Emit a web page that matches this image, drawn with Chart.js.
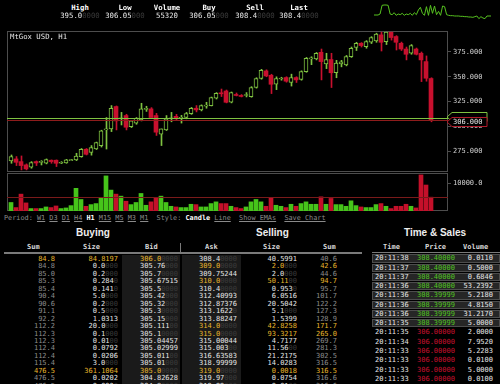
<!DOCTYPE html>
<html>
<head>
<meta charset="utf-8">
<script src="https://cdn.jsdelivr.net/npm/chart.js@4.4.1/dist/chart.umd.min.js"></script>
<style>
body { margin: 0; background: #000; width: 500px; height: 384px; overflow: hidden; position: relative; font-family: "DejaVu Sans Mono", monospace; color: #ddd; }
canvas { position: absolute; }
.t { position: absolute; white-space: pre; font-size: 7px; line-height: 8px; }
.b { font-weight: bold; }
.dim { color: #3a3a3a; }
.hd { font-family: "Liberation Sans", Arial, sans-serif; font-weight: bold; font-size: 10px; line-height: 12px; color: #eee; }
.lnk { color: #8a8a8a; text-decoration: underline; }
.on { color: #fff; font-weight: bold; }
</style>
</head>
<body>
<canvas id="spark" width="117" height="18" style="left:374px;top:2px;width:117px;height:18px"></canvas>
<canvas id="price" width="493" height="141" style="left:7px;top:31px;width:493px;height:141px"></canvas>
<canvas id="volume" width="493" height="38" style="left:7px;top:173px;width:493px;height:38px"></canvas>
<script>
// hourly candles, MtGox USD
const opens = [265.0, 267.0, 264.3, 261.0, 258.6, 264.3, 263.9, 262.6, 265.7, 265.7, 263.0, 263.0, 265.7, 266.0, 269.4, 276.8, 273.7, 277.1, 280.5, 296.5,
  297.3, 319.9, 307.8, 310.8, 299.7, 303.0, 306.4, 317.3, 317.5, 310.8, 292.0, 296.3, 307.8, 310.0, 308.4, 308.8, 312.8, 318.2, 316.5, 320.6,
  320.9, 328.3, 333.6, 335.6, 324.2, 331.9, 330.9, 331.3, 330.0, 339.1, 348.2, 355.9, 351.5, 342.4, 347.9, 349.2, 344.2, 349.2, 347.4, 355.2,
  368.3, 368.0, 374.7, 363.0, 367.4, 354.0, 363.0, 362.0, 370.4, 379.5, 383.8, 380.5, 384.8, 386.2, 392.3, 385.5, 395.0, 390.6, 383.8, 378.0,
  373.7, 378.0, 373.7, 365.3, 348.2]
const highs = [271.0, 269.4, 270.0, 262.0, 264.3, 265.0, 265.3, 267.0, 266.0, 266.0, 264.3, 266.6, 266.6, 272.7, 277.5, 277.5, 280.5, 284.0, 296.0, 308.8,
  320.9, 320.5, 314.0, 312.1, 306.0, 308.8, 323.2, 320.2, 318.8, 313.0, 297.3, 310.8, 314.0, 312.0, 311.0, 314.0, 319.0, 320.9, 321.6, 324.2,
  329.5, 334.0, 337.6, 336.6, 334.6, 333.6, 332.0, 334.0, 340.0, 349.0, 357.5, 357.0, 352.5, 349.9, 349.5, 350.0, 352.6, 350.0, 356.0, 369.5,
  370.2, 374.5, 378.0, 373.7, 373.7, 366.6, 366.6, 371.5, 380.0, 384.8, 384.5, 386.5, 390.5, 394.0, 395.0, 395.0, 395.0, 391.5, 385.0, 380.0,
  382.5, 379.0, 375.0, 371.0, 349.0]
const lows = [262.6, 260.3, 255.9, 255.9, 257.6, 260.3, 260.9, 262.0, 262.6, 259.3, 262.3, 262.6, 265.3, 265.3, 268.7, 271.0, 270.8, 276.5, 279.0, 277.0,
  294.6, 296.3, 301.3, 296.3, 298.7, 302.0, 305.4, 315.0, 311.0, 290.7, 280.5, 295.7, 304.5, 306.0, 303.2, 307.5, 312.0, 314.5, 315.5, 318.2,
  320.5, 327.5, 330.0, 323.6, 323.6, 330.6, 329.6, 329.6, 329.3, 338.5, 347.5, 350.0, 333.0, 337.0, 346.5, 344.5, 340.6, 344.2, 346.5, 354.5,
  362.2, 367.0, 346.8, 358.2, 339.1, 349.0, 360.0, 361.0, 369.5, 376.5, 380.0, 378.8, 383.5, 384.8, 376.0, 382.5, 387.0, 377.0, 376.5, 367.0,
  372.7, 372.0, 345.1, 345.5, 304.5]
const closes = [269.4, 263.6, 260.3, 256.9, 263.3, 262.9, 264.3, 266.4, 264.3, 262.6, 263.3, 266.0, 266.0, 270.0, 276.8, 271.7, 278.5, 283.5, 295.3, 297.3,
  318.2, 305.4, 308.3, 299.0, 305.4, 308.0, 317.5, 317.8, 308.8, 294.0, 297.3, 307.4, 308.3, 307.5, 308.8, 312.8, 318.2, 316.5, 320.9, 321.2,
  329.0, 333.3, 333.0, 324.2, 334.0, 331.3, 330.3, 331.9, 339.1, 348.2, 356.6, 350.8, 342.4, 348.2, 348.5, 345.5, 349.2, 346.8, 355.2, 368.6,
  368.9, 373.7, 365.3, 367.4, 354.0, 363.7, 365.0, 370.4, 378.8, 383.8, 381.5, 385.5, 389.6, 393.0, 384.8, 395.0, 389.6, 384.8, 378.0, 372.7,
  381.5, 372.7, 367.0, 348.5, 306.0]
const volumes = [3070, 1240, 6090, 2920, 880, 880, 880, 1460, 1240, 1820, 880, 1100, 1940, 8180, 4160, 1700, 2310, 2680, 4890, 12670,
  7550, 6090, 5360, 3530, 2310, 3070, 6330, 2070, 3300, 4890, 5360, 3070, 1700, 1460, 1240, 1240, 2430, 2310, 1460, 1460,
  2680, 3300, 2680, 2680, 1700, 1240, 880, 1460, 3300, 4160, 3300, 1700, 4650, 2070, 1700, 1240, 2430, 1700, 2680, 3300,
  2430, 2430, 5120, 2430, 4530, 2310, 2310, 1700, 3670, 1940, 1460, 1240, 1240, 2310, 2680, 1700, 880, 1700, 1700, 2430,
  1700, 1100, 13030, 9380, 4993.86]
const priceTicks = [275, 300, 325, 350, 375]
const volumeTicks = [10000]
const lastPrice = 306.0
const sellPrice = 308.4
const lastVolume = 4993.86

// ticker sparkline
const sparkValues = [15, 15, 15, 18, 44, 45, 45, 44, 18, 16, 22, 14, 18, 16, 20, 14, 18, 16, 20, 14, 22, 16, 30, 38, 20, 14, 40, 14, 44, 20,
  42, 16, 26, 14, 42, 40, 16, 14, 13, 13, 12, 12, 12, 11, 11, 10, 10, 9, 9, 8, 10, 12, 4, 10, 6, 4, 12, 12, 12]

// header
const headerLabels = ['High', 'Low', 'Volume', 'Buy', 'Sell', 'Last']
const headerValues = ['395.0', '306.05', '55320', '306.05', '308.4', '308.4']
const headerCenters = [80, 125, 167, 209, 255, 299]

// order book
const buySum = ['84.8', '84.8', '85.0', '85.3', '85.4', '90.4', '90.6', '91.1', '92.2', '112.2', '112.3', '112.3', '112.4', '112.4', '115.4', '476.5', '476.5', '476.5']
const buySize = ['84.8197', '0.0', '0.2', '0.284', '0.141', '5.0', '0.2', '0.5', '1.0313', '20.0', '0.1', '0.01', '0.0792', '0.0206', '3.0', '361.1064', '0.0202', '0.002']
const bids = ['306.0', '305.76', '305.7', '305.67515', '305.5', '305.42', '305.32', '305.3', '305.15', '305.111', '305.1', '305.04457', '305.02999', '305.011', '305.01', '305.0', '304.82628', '304.8']
const asks = ['308.4', '309.0', '309.75244', '310.0', '310.4', '312.40993', '312.87376', '313.1622', '313.88247', '314.0', '315.0', '315.00044', '315.003', '316.63583', '318.99999', '319.0', '319.97', '319.99']
const sellSize = ['40.5991', '2.0', '2.0', '50.11', '0.953', '6.0516', '20.5042', '5.1', '1.5399', '42.8258', '93.3217', '4.7177', '11.56', '21.2175', '14.0283', '0.0018', '0.0754', '0.01']
const sellSum = ['40.6', '42.6', '44.6', '94.7', '95.7', '101.7', '122.2', '127.3', '128.9', '171.7', '265.0', '269.7', '281.3', '302.5', '316.5', '316.5', '316.6', '316.6']
const buyHot = [0, 15]
const sellHot = [1, 3, 9, 10, 15]

// time & sales
const tsTime = ['20:11:38', '20:11:37', '20:11:37', '20:11:36', '20:11:36', '20:11:36', '20:11:36', '20:11:35', '20:11:35', '20:11:34', '20:11:33', '20:11:33', '20:11:33', '20:11:33']
const tsPrice = ['308.40000', '308.40000', '308.40000', '308.40000', '308.39999', '308.39999', '308.39999', '308.39999', '306.00000', '306.00000', '306.00000', '306.00000', '306.00000', '306.00000']
const tsVolume = ['0.0110', '0.5000', '0.6846', '53.2392', '5.2180', '4.8150', '31.2170', '5.0000', '2.0000', '7.9520', '5.2283', '0.0100', '5.0000', '0.0100']

const GREEN = '#7fc241'
const RED = '#c8102e'
const VGREEN = '#46c41a'
const VRED = '#c4102a'
const FONT = { family: 'DejaVu Sans Mono', size: 7 }

function padded(s, d) {
    const i = s.indexOf('.')
    const have = i < 0 ? 0 : s.length - i - 1
    return s + '<span class="dim">' + '0'.repeat(Math.max(0, d - have)) + '</span>'
}

function put(x, y, html, cls, align, size) {
    const d = document.createElement('div')
    d.className = 't ' + (cls || '')
    d.innerHTML = html
    d.style.top = (y - 4) + 'px'
    if (size) d.style.fontSize = size + 'px'
    if (align === 'right') d.style.right = (500 - x) + 'px'
    else if (align === 'center') { d.style.left = (x - 40) + 'px'; d.style.width = '80px'; d.style.textAlign = 'center' }
    else d.style.left = x + 'px'
    document.body.appendChild(d)
    return d
}

function box(x, y, w, h, bg, border) {
    const d = document.createElement('div')
    d.style.cssText = `position:absolute;left:${x}px;top:${y}px;width:${w}px;height:${h}px;background:${bg};` + (border ? `box-shadow:inset 0 0 0 1px ${border};` : '')
    document.body.appendChild(d)
}

// header row
headerLabels.forEach((l, i) => {
    put(headerCenters[i], 8, l, 'b', 'center', 7.3).style.color = '#fff'
    const v = l === 'Volume' ? headerValues[i] : padded(headerValues[i], 5)
    put(headerCenters[i], 16, v, '', 'center', 7.3).style.color = '#e6e6e6'
})

put(10, 37, 'MtGox USD, H1', '', null, 7.3).style.color = '#e6e6e6'

// period / style bar
const periods = ['W1', 'D3', 'D1', 'H4', 'H1', 'M15', 'M5', 'M3', 'M1']
let bar = '<span style="color:#8a8a8a">Period: </span>' +
    periods.map(p => p === 'H1' ? `<span class="on">${p}</span>` : `<span class="lnk">${p}</span>`).join(' ') +
    '  <span style="color:#8a8a8a">Style: </span><span class="on">Candle</span> <span class="lnk">Line</span>  <span class="lnk">Show EMAs</span>  <span class="lnk">Save Chart</span>'
put(4, 218, bar, '', null, 6.85)

// order book headings
const h1 = document.createElement('div'); h1.className = 't hd'; h1.textContent = 'Buying'; h1.style.cssText += 'left:76px;top:227px'; document.body.appendChild(h1)
const h2 = document.createElement('div'); h2.className = 't hd'; h2.textContent = 'Selling'; h2.style.cssText += 'left:256px;top:227px'; document.body.appendChild(h2)
const h3 = document.createElement('div'); h3.className = 't hd'; h3.textContent = 'Time & Sales'; h3.style.cssText += 'left:404px;top:227px'; document.body.appendChild(h3)

box(4, 252, 358, 2, '#7a7a7a')
box(180, 243, 1, 10, '#7a7a7a')
box(372, 252, 128, 1, '#7a7a7a')
box(122, 255, 58, 130, '#1a1a1a')
box(182, 255, 59, 130, '#1a1a1a')

const colHeads = [[27, 'Sum'], [83, 'Size'], [145, 'Bid'], [205, 'Ask'], [263, 'Size'], [323, 'Sum'], [383, 'Time'], [425, 'Price'], [463, 'Volume']]
colHeads.forEach(([x, s]) => { put(x, 247, s, 'b').style.color = '#d8d8d8' })

const YELLOW = '#e8b62c'
buySum.forEach((s, k) => {
    const y = 259 + 7.45 * k
    const hotB = buyHot.includes(k), hotS = sellHot.includes(k)
    put(55, y, s, '', 'right').style.color = hotB ? YELLOW : '#8c8c8c'
    put(118, y, padded(buySize[k], 4), '', 'right').style.color = hotB ? YELLOW : '#e6e6e6'
    put(178, y, padded(bids[k], 5), '', 'right').style.color = hotB ? YELLOW : '#e6e6e6'
    put(237, y, padded(asks[k], 5), '', 'right').style.color = hotS ? YELLOW : '#e6e6e6'
    put(297, y, padded(sellSize[k], 4), '', 'right').style.color = hotS ? YELLOW : '#e6e6e6'
    put(337, y, sellSum[k], '', 'right').style.color = hotS ? YELLOW : '#8c8c8c'
})

tsTime.forEach((t, k) => {
    const y = 258.3 + 9.27 * k
    const buy = k < 8
    if (buy) box(372, y - 4, 128, 8.3, '#262626', '#4d4d4d')
    put(375, y, t).style.color = '#e6e6e6'
    put(417, y, tsPrice[k]).style.color = buy ? '#52c422' : '#c8102e'
    put(493, y, tsVolume[k], '', 'right').style.color = '#e6e6e6'
})

// charts
const up = closes.map((c, i) => c >= opens[i])
const bodies = opens.map((o, i) => {
    let a = o, b = closes[i]
    if (Math.abs(a - b) < 1) { const m = (a + b) / 2; a = m - 0.5; b = m + 0.5 }
    return { x: i, y: [a, b] }
})
const wicks = lows.map((l, i) => ({ x: i, y: [l, highs[i]] }))
const vols = volumes.map((v, i) => ({ x: i, y: v }))

function fixAxis(s) { s.width = 52; s.paddingTop = 0; s.paddingBottom = 0 }

function pointer(ctx, x, y, w, h, color, text) {
    ctx.beginPath()
    ctx.moveTo(x, y)
    ctx.lineTo(x + 5, y - h / 2)
    ctx.lineTo(x + w, y - h / 2)
    ctx.lineTo(x + w, y + h / 2)
    ctx.lineTo(x + 5, y + h / 2)
    ctx.closePath()
    ctx.fillStyle = '#000'
    ctx.fill()
    ctx.strokeStyle = color
    ctx.lineWidth = 1
    ctx.stroke()
    if (text) {
        ctx.fillStyle = '#e6e6e6'
        ctx.font = '7px "DejaVu Sans Mono"'
        ctx.textBaseline = 'middle'
        ctx.fillText(text, x + 6, y + 0.5)
    }
}

const framePlugin = {
    id: 'frame',
    beforeDatasetsDraw(chart) {
        const a = chart.chartArea, ctx = chart.ctx
        ctx.save()
        ctx.strokeStyle = '#4d4d4d'
        ctx.lineWidth = 1
        ctx.strokeRect(a.left + 0.5, a.top + 0.5, a.right - a.left - 1, a.bottom - a.top - 1)
        ctx.restore()
    },
    afterDraw(chart, args, opts) {
        const a = chart.chartArea, ctx = chart.ctx, ys = chart.scales.y
        ctx.save()
        opts.levels.forEach(l => {
            const y = Math.round(ys.getPixelForValue(l.value)) + 0.5
            ctx.strokeStyle = l.line
            ctx.lineWidth = 1
            ctx.beginPath(); ctx.moveTo(a.left, y); ctx.lineTo(a.right, y); ctx.stroke()
        })
        opts.levels.forEach(l => {
            const y = Math.round(ys.getPixelForValue(l.value)) + 0.5 + (l.shift || 0)
            pointer(ctx, a.right - 1, y, 40, l.h || 9, l.box, l.text)
        })
        ctx.restore()
    }
}

new Chart(document.getElementById('price'), {
    type: 'bar',
    data: {
        datasets: [
            {
                data: bodies, xAxisID: 'x', grouped: false, barThickness: 4,
                backgroundColor: up.map(u => u ? '#000' : RED),
                borderColor: up.map(u => u ? GREEN : RED),
                borderWidth: up.map(u => u ? 1 : 0),
                borderSkipped: false
            },
            {
                data: wicks, xAxisID: 'x2', grouped: false, barThickness: 1,
                backgroundColor: up.map(u => u ? GREEN : RED),
                borderWidth: 0
            }
        ]
    },
    options: {
        responsive: false, animation: false, events: [],
        layout: { padding: 0 },
        plugins: {
            legend: { display: false }, tooltip: { enabled: false },
            frame: {
                levels: [
                    { value: sellPrice, line: '#7fc241', box: '#7fc241', shift: -1.5 },
                    { value: lastPrice, line: '#8e1c1c', box: '#b01a2a', text: lastPrice.toFixed(3), shift: 1.5 }
                ]
            }
        },
        scales: {
            x: { type: 'linear', min: -0.8, max: 87.4, offset: false, display: false },
            x2: { type: 'linear', min: -0.9, max: 87.3, offset: false, display: false },
            y: {
                position: 'right', min: 253.8, max: 396.2,
                afterBuildTicks: s => { s.ticks = priceTicks.map(v => ({ value: v })) },
                afterFit: fixAxis,
                border: { display: false },
                grid: { drawOnChartArea: false, color: '#4d4d4d', tickLength: 3 },
                ticks: { color: '#d0d0d0', font: FONT, padding: 2, callback: v => v.toFixed(3) }
            }
        }
    },
    plugins: [framePlugin]
})

new Chart(document.getElementById('volume'), {
    type: 'bar',
    data: {
        datasets: [{
            data: vols, grouped: false, barThickness: 4,
            backgroundColor: up.map(u => u ? VGREEN : VRED), borderWidth: 0
        }]
    },
    options: {
        responsive: false, animation: false, events: [],
        layout: { padding: 0 },
        plugins: {
            legend: { display: false }, tooltip: { enabled: false },
            frame: { levels: [{ value: lastVolume, line: '#7a1a1a', box: '#b01a2a', text: lastVolume.toFixed(2) }] }
        },
        scales: {
            x: { type: 'linear', min: -0.8, max: 87.4, offset: false, display: false },
            y: {
                position: 'right', min: 0, max: 13720,
                afterBuildTicks: s => { s.ticks = volumeTicks.map(v => ({ value: v })) },
                afterFit: fixAxis,
                border: { display: false },
                grid: { drawOnChartArea: false, color: '#4d4d4d', tickLength: 3 },
                ticks: { color: '#d0d0d0', font: FONT, padding: 2, callback: v => v.toFixed(1) }
            }
        }
    },
    plugins: [framePlugin]
})

new Chart(document.getElementById('spark'), {
    type: 'line',
    data: {
        labels: sparkValues.map((v, i) => i),
        datasets: [{ data: sparkValues, borderColor: '#56c21f', borderWidth: 1, pointRadius: 0, tension: 0 }]
    },
    options: {
        responsive: false, animation: false, events: [],
        layout: { padding: 0 },
        plugins: { legend: { display: false }, tooltip: { enabled: false } },
        scales: {
            x: { display: false, offset: false },
            y: { display: false, min: 0, max: 54 }
        }
    }
})
</script>
</body>
</html>
